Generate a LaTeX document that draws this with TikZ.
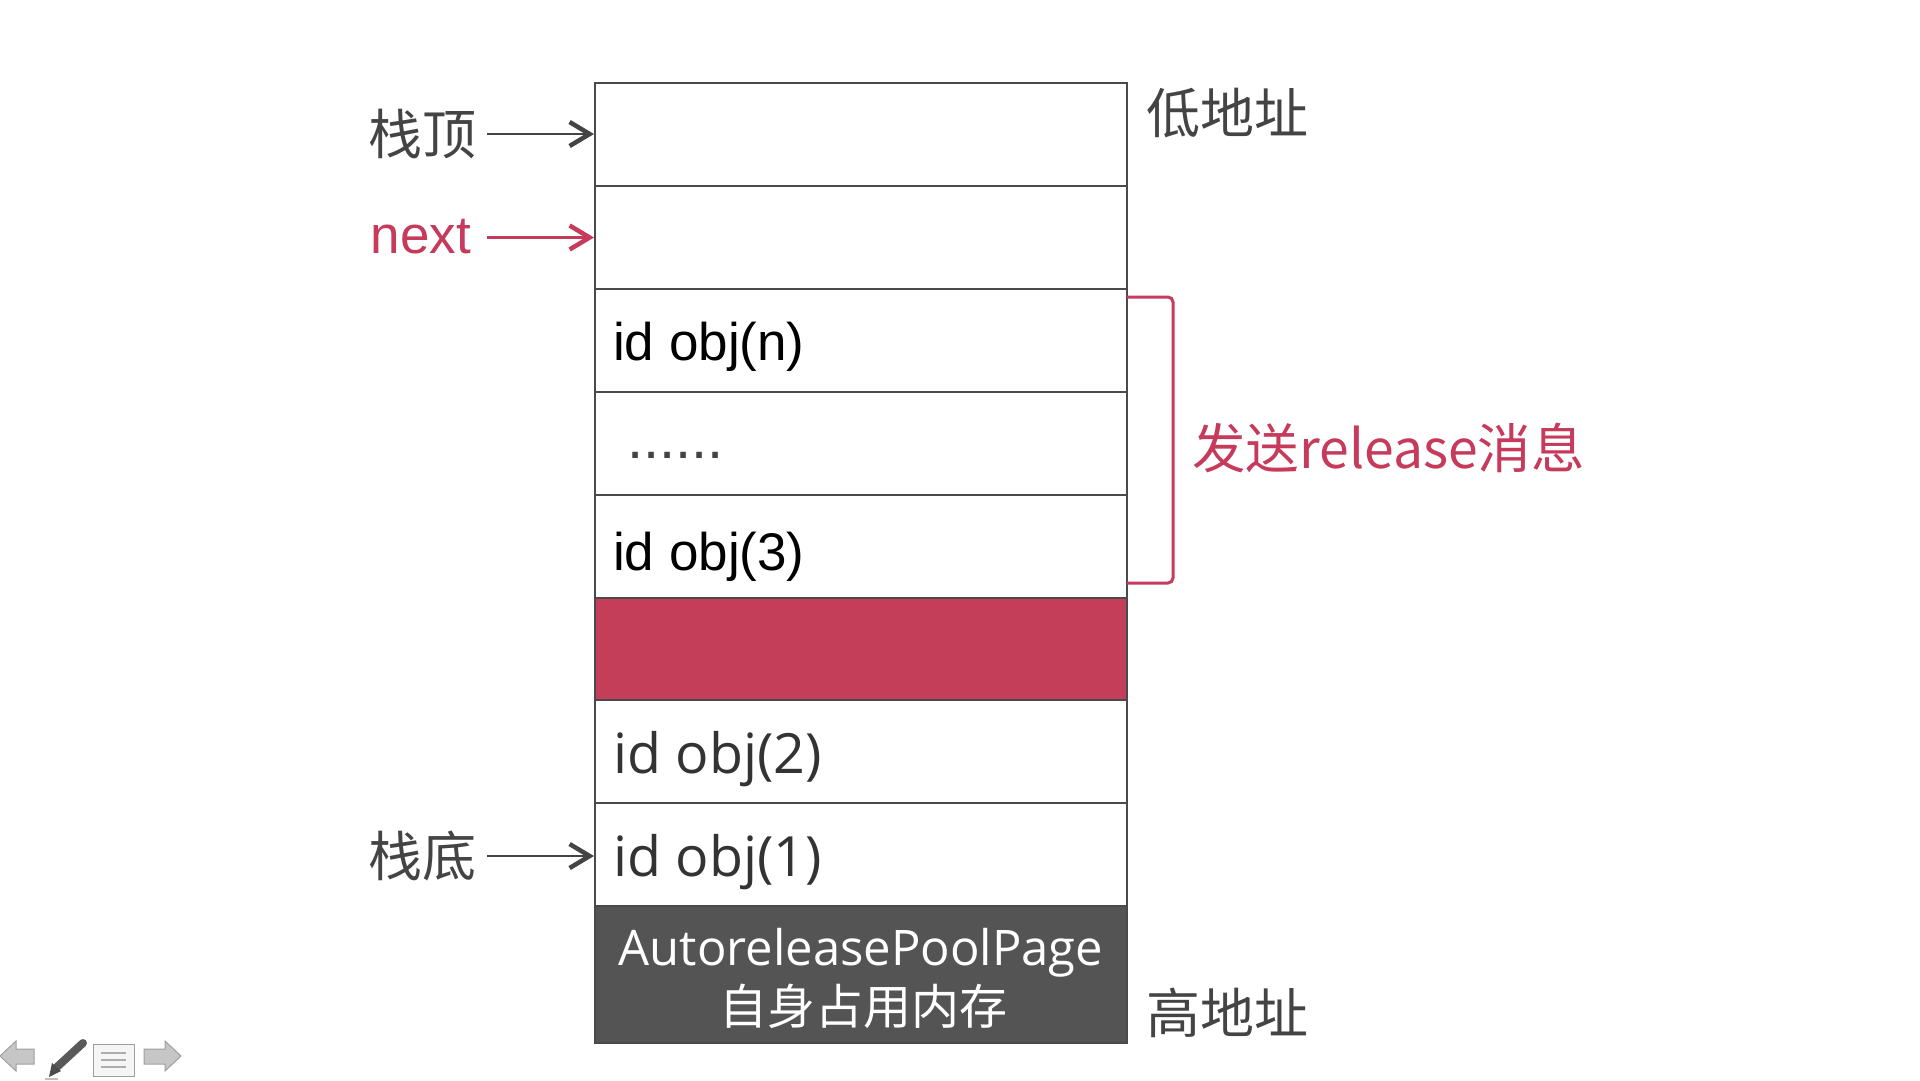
\documentclass[tikz,border=0pt]{standalone}
\usepackage{fontspec}
\setmainfont{Liberation Sans}
\newfontfamily\cjk{Noto Sans CJK SC}
\newfontfamily\seg{Open Sans}
\usetikzlibrary{arrows.meta}
\definecolor{crim}{HTML}{C63A5C}
\definecolor{cellred}{HTML}{C43E5A}
\definecolor{darkbox}{HTML}{545454}
\definecolor{edge}{HTML}{4A4A4A}
\definecolor{lab}{HTML}{444444}
\definecolor{segtxt}{HTML}{333333}
\begin{document}
\begin{tikzpicture}[x=1pt,y=-1pt,
  cell/.style={draw=edge, line width=2pt, minimum width=532pt, minimum height=103pt, inner sep=0pt, anchor=north west, outer sep=0pt},
  ptr/.style={-{Straight Barb[length=20pt,width=24pt,line width=4.5pt]}, line width=2.5pt, shorten >=1pt},
  side/.style={font=\cjk\fontsize{54}{60}\selectfont, text=lab, inner sep=0pt, anchor=east},
  arialtxt/.style={font=\fontsize{53}{60}\selectfont, inner sep=0pt, anchor=base west},
  segstyle/.style={font=\seg\fontsize{55.5}{60}\selectfont, text=segtxt, inner sep=0pt, anchor=base west}]
\useasboundingbox[fill=white] (0,0) rectangle (1920,1080);
% cells
\node[cell] (c1) at (595,83) {};
\node[cell] (c2) at (595,186) {};
\node[cell] (c3) at (595,289) {};
\node[cell] (c4) at (595,392) {};
\node[cell] (c5) at (595,495) {};
\node[cell, fill=cellred, minimum height=102pt] (c6) at (595,598) {};
\node[cell] (c7) at (595,700) {};
\node[cell] (c8) at (595,803) {};
\node[cell, fill=darkbox, minimum height=137pt] (c9) at (595,906) {};
% cell texts
\node[arialtxt] (t3) at (613,360) {id obj(n)};
\node[font=\fontsize{58}{60}\selectfont, inner sep=0pt, anchor=base west, text=lab] (t4) at (627,458) {......};
\node[arialtxt] (t5) at (613,570) {id obj(3)};
\node[segstyle] (t7) at (613,773) {id obj(2)};
\node[segstyle] (t8) at (613,876) {id obj(1)};
\node[font=\seg\fontsize{49}{56}\selectfont, text=white, inner sep=0pt, anchor=base] (t9a) at (861,965) {AutoreleasePoolPage};
\node[font=\cjk\fontsize{48}{56}\selectfont, text=white, inner sep=0pt] (t9b) at (863,1006) {自身占用内存};
% left labels
\node[side] (l1) at (477,134) {栈顶};
\node[font=\fontsize{53}{60}\selectfont, text=crim, inner sep=0pt, anchor=base east] (l2) at (471,253) {next};
\node[side] (l8) at (477,856) {栈底};
\draw[ptr, draw=lab] ([xshift=10pt]l1.east) -- (l1.east -| c1.west);
\draw[ptr, draw=crim] ([xshift=16pt]l2.east |- c2.west) -- (c2.west);
\draw[ptr, draw=lab] ([xshift=10pt]l8.east) -- (l8.east -| c8.west);
% right labels
\node[side, anchor=west] (low) at (1146,113) {低地址};
\node[side, anchor=west] (high) at (1146,1013) {高地址};
% bracket
\coordinate (bt) at ([yshift=-8pt]c3.north east);
\coordinate (bb) at ([yshift=15pt]c5.south east);
\draw[crim, line width=3pt, rounded corners=5pt] (bt) -- ++(46,0) |- (bb);
\node[font=\cjk\fontsize{53.5}{60}\selectfont, text=crim, inner sep=0pt, anchor=west] (msg) at (1192,448) {发送release消息};
% slideshow controls
\begin{scope}[draw=gray!75, fill=gray!45, line width=1pt]
\filldraw (0,1056) -- (16,1041) -- (16,1049) -- (34,1049) -- (34,1064) -- (16,1064) -- (16,1071) -- cycle;
\filldraw (181,1056) -- (165,1041) -- (165,1049) -- (144,1049) -- (144,1064) -- (165,1064) -- (165,1071) -- cycle;
\filldraw[fill=gray!8] (93,1044) rectangle (134,1076);
\draw[gray!65, line width=2.5pt] (101,1053) -- (126,1053) (101,1060) -- (126,1060) (101,1067) -- (126,1067);
\end{scope}
\draw[gray!70!black, line width=8pt, line cap=round] (57,1067) -- (83,1043);
\fill[gray!60!black] (49,1077) -- (52,1063) -- (61,1071) -- cycle;
\draw[gray!50, line width=1.5pt] (45,1079) -- (58,1079);
\end{tikzpicture}
\end{document}
